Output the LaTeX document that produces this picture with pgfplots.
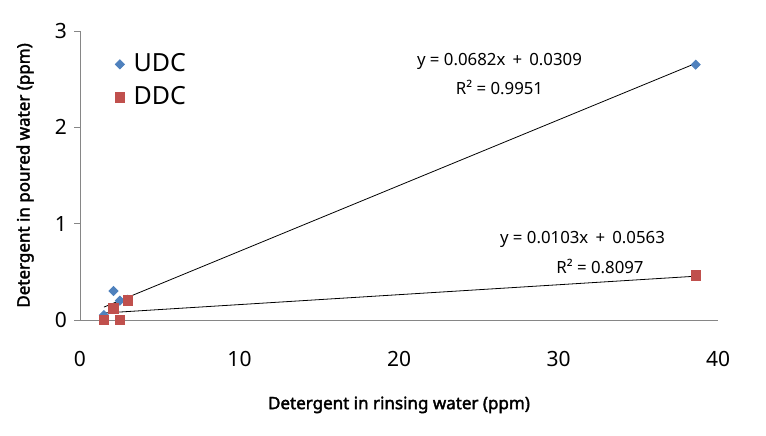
\documentclass[border=0pt]{standalone}
\usepackage{fontspec}
\setmainfont{Noto Sans}[AutoFakeBold=2.2]
\usepackage{pgfplots}
\pgfplotsset{compat=1.18}
\definecolor{udc}{HTML}{4F81BD}
\definecolor{ddc}{HTML}{C0504D}
\definecolor{axgray}{HTML}{868686}
\begin{document}
\begin{tikzpicture}
\begin{axis}[
  scale only axis,
  width=319pt, height=144.5pt,
  xmin=0, xmax=40, ymin=0, ymax=3,
  xtick={0,10,20,30,40}, ytick={0,1,2,3},
  axis x line=bottom, axis y line=left,
  axis line style={axgray, -},
  tick align=outside,
  major tick length=3pt,
  xtick style={draw=none},
  ytick style={axgray},
  tick label style={font=\fontsize{10.5}{12}\selectfont},
  xticklabel style={yshift=-9pt},
  /pgf/number format/assume math mode=true,
  xlabel={Detergent in rinsing water (ppm)},
  ylabel={Detergent in poured water (ppm)},
  label style={font=\fontsize{8.5}{10}\selectfont\bfseries},
  xlabel style={at={(rel axis cs:0.5,-0.294)}, anchor=center},
  ylabel style={at={(rel axis cs:-0.086,0.5)}, anchor=center},
  clip=false,
  legend style={at={(rel axis cs:0.045,0.95)}, anchor=north west, draw=none,
    fill=none, font=\fontsize{12.5}{14}\selectfont, row sep=2pt,
    nodes={inner xsep=4.5pt}},
  legend cell align=left,
]
\addplot[only marks, mark=square*, mark size=1.6pt, color=udc,
  mark options={rotate=45}]
  coordinates {(1.5,0.05)(2.1,0.30)(2.5,0.20)(3.0,0.21)(38.6,2.65)};
\addlegendentry{UDC}
\addplot[only marks, mark=square*, mark size=2.4pt, color=ddc]
  coordinates {(1.5,0.0)(2.1,0.12)(2.5,0.0)(3.0,0.20)(38.6,0.46)};
\addlegendentry{DDC}
\addplot[black, thin, forget plot] coordinates {(1.5,0.1332)(38.6,2.6634)};
\addplot[black, thin, forget plot] coordinates {(1.5,0.0718)(38.6,0.4539)};
\node[font=\fontsize{8.4}{10}\selectfont] at (axis cs:26.3,2.68) {y = 0.0682x \,+\, 0.0309};
\node[font=\fontsize{8.4}{10}\selectfont] at (axis cs:26.3,2.41) {R² = 0.9951};
\node[font=\fontsize{8.4}{10}\selectfont] at (axis cs:31.5,0.84) {y = 0.0103x \,+\, 0.0563};
\node[font=\fontsize{8.4}{10}\selectfont] at (axis cs:32.6,0.56) {R² = 0.8097};
\path (rel axis cs:-0.1254,-0.401) rectangle (rel axis cs:1.0752,1.107);
\end{axis}
\end{tikzpicture}
\end{document}
